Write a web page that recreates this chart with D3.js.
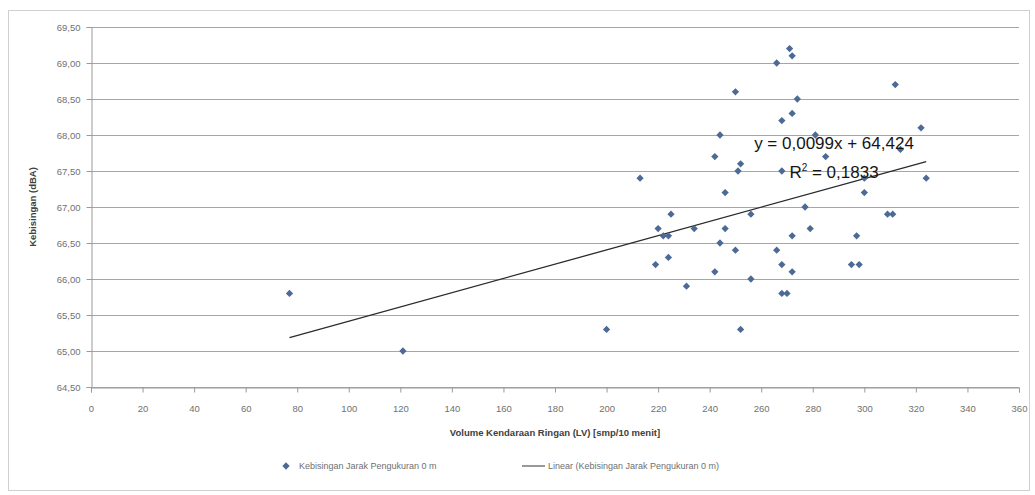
<!DOCTYPE html>
<html>
<head>
<meta charset="utf-8">
<script src="https://cdn.jsdelivr.net/npm/d3@7"></script>
<style>
  body { margin: 0; background: #fff; }
  #scatterChart text { font-family: 'Liberation Sans', Arial, sans-serif; }
</style>
</head>
<body>
<div id="scatterChart"></div>
<script>
// Volume LV vs kebisingan scatter + linear trend

// Data
var volumeLV = [77, 121, 200, 213, 219, 220, 222, 224, 224, 225,
  231, 234, 242, 242, 244, 244, 246, 246, 250, 250,
  251, 252, 252, 256, 256, 266, 266, 268, 268, 268,
  268, 270, 271, 272, 272, 272, 272, 274, 277, 279,
  281, 285, 295, 298, 297, 300, 300, 309, 311, 312,
  314, 322, 324];
var kebisingan = [65.80, 65.00, 65.30, 67.40, 66.20, 66.70, 66.60, 66.60, 66.30, 66.90,
  65.90, 66.70, 67.70, 66.10, 68.00, 66.50, 67.20, 66.70, 68.60, 66.40,
  67.50, 67.60, 65.30, 66.90, 66.00, 69.00, 66.40, 68.20, 67.50, 66.20,
  65.80, 65.80, 69.20, 69.10, 68.30, 66.60, 66.10, 68.50, 67.00, 66.70,
  68.00, 67.70, 66.20, 66.20, 66.60, 67.40, 67.20, 66.90, 66.90, 68.70,
  67.80, 68.10, 67.40];
var xTicks = [0, 20, 40, 60, 80, 100, 120, 140, 160, 180, 200, 220, 240, 260, 280, 300, 320, 340, 360];
var yTicks = [64.5, 65, 65.5, 66, 66.5, 67, 67.5, 68, 68.5, 69, 69.5];
var trendSlope = 0.0099;
var trendIntercept = 64.424;
var rSquared = 0.1833;
var legendLabels = ['Kebisingan Jarak Pengukuran 0 m', 'Linear (Kebisingan Jarak Pengukuran 0 m)'];

var data = volumeLV.map(function(v, i) { return {x: v, y: kebisingan[i]}; });

var width = 1035,
  height = 495,
  margin = {top: 27, right: 16, bottom: 108, left: 91};

var commaNum = function(v, digits) { return v.toFixed(digits).replace('.', ','); };

var svg = d3.select('#scatterChart')
  .append('svg')
  .attr('width', width)
  .attr('height', height);

// Chart border
svg.append('rect')
  .attr('x', 8.5)
  .attr('y', 10.5)
  .attr('width', 1021)
  .attr('height', 480)
  .style('fill', 'none')
  .style('stroke', '#d0d0d0');

var xScale = d3.scaleLinear()
  .domain([0, 360])
  .range([margin.left, width - margin.right]);

var yScale = d3.scaleLinear()
  .domain([64.5, 69.5])
  .range([height - margin.bottom, margin.top]);

// Gridlines
svg.append('g')
  .selectAll('line')
  .data(yTicks)
  .enter().append('line')
  .attr('x1', xScale(0))
  .attr('x2', xScale(360))
  .attr('y1', function(d) { return Math.round(yScale(d)) + 0.5; })
  .attr('y2', function(d) { return Math.round(yScale(d)) + 0.5; })
  .style('stroke', '#a6a6a6')
  .style('stroke-width', 1.2);

// Y axis
var yAxis = svg.append('g')
  .attr('transform', 'translate(' + (xScale(0) + 0.5) + ',0)')
  .call(d3.axisLeft(yScale)
    .tickValues(yTicks)
    .tickSize(5)
    .tickPadding(6)
    .tickFormat(function(d) { return commaNum(d, 2); }));

// X axis
var xAxis = svg.append('g')
  .attr('transform', 'translate(0,' + (Math.round(yScale(64.5)) + 0.5) + ')')
  .call(d3.axisBottom(xScale)
    .tickValues(xTicks)
    .tickSize(5)
    .tickPadding(13)
    .tickFormat(d3.format('d')));

[xAxis, yAxis].forEach(function(ax) {
  ax.select('.domain').style('stroke', '#9a9a9a');
  ax.selectAll('.tick line').style('stroke', '#9a9a9a');
  ax.selectAll('.tick text')
    .style('fill', '#707070')
    .style('font-size', '9.5px');
});

// Axis titles
svg.append('text')
  .attr('transform', 'translate(36,' + yScale(67) + ') rotate(-90)')
  .style('text-anchor', 'middle')
  .style('font-size', '9.5px')
  .style('font-weight', 'bold')
  .style('fill', '#404040')
  .text('Kebisingan (dBA)');

svg.append('text')
  .attr('x', xScale(180))
  .attr('y', 436)
  .style('text-anchor', 'middle')
  .style('font-size', '9.5px')
  .style('font-weight', 'bold')
  .style('fill', '#404040')
  .text('Volume Kendaraan Ringan (LV) [smp/10 menit]');

// Trend line
var xExtent = d3.extent(data, function(d) { return d.x; });
svg.append('line')
  .attr('x1', xScale(xExtent[0]))
  .attr('y1', yScale(trendSlope * xExtent[0] + trendIntercept))
  .attr('x2', xScale(xExtent[1]))
  .attr('y2', yScale(trendSlope * xExtent[1] + trendIntercept))
  .style('stroke', '#2b2b2b')
  .style('stroke-width', 1.3);

// Points (square diamonds like excel)
var diamond = d3.symbol().type(d3.symbolDiamond2).size(34);
svg.append('g')
  .selectAll('path')
  .data(data)
  .enter().append('path')
  .attr('d', diamond)
  .attr('transform', function(d) { return 'translate(' + xScale(d.x) + ',' + yScale(d.y) + ')'; })
  .style('fill', '#4d6a94');

// Equation label
var eqGroup = svg.append('g')
  .attr('transform', 'translate(834,0)');
eqGroup.append('text')
  .attr('y', 149)
  .style('text-anchor', 'middle')
  .style('font-size', '17px')
  .style('fill', '#151515')
  .text('y = ' + commaNum(trendSlope, 4) + 'x + ' + commaNum(trendIntercept, 3));
var r2 = eqGroup.append('text')
  .attr('y', 178)
  .style('text-anchor', 'middle')
  .style('font-size', '17px')
  .style('fill', '#151515');
r2.append('tspan').text('R');
r2.append('tspan').attr('dy', -7).style('font-size', '10px').text('2');
r2.append('tspan').attr('dy', 7).text(' = ' + commaNum(rSquared, 4));

// Legend
var legend = svg.append('g')
  .attr('transform', 'translate(0,466)');
legend.append('path')
  .attr('d', diamond)
  .attr('transform', 'translate(286,0)')
  .style('fill', '#4d6a94');
legend.append('text')
  .attr('x', 299)
  .attr('dy', '.35em')
  .style('font-size', '9px')
  .style('fill', '#707070')
  .text(legendLabels[0]);
legend.append('line')
  .attr('x1', 522)
  .attr('x2', 545)
  .style('stroke', '#555')
  .style('stroke-width', 1.2);
legend.append('text')
  .attr('x', 548)
  .attr('dy', '.35em')
  .style('font-size', '9px')
  .style('fill', '#707070')
  .text(legendLabels[1]);
</script>
</body>
</html>
